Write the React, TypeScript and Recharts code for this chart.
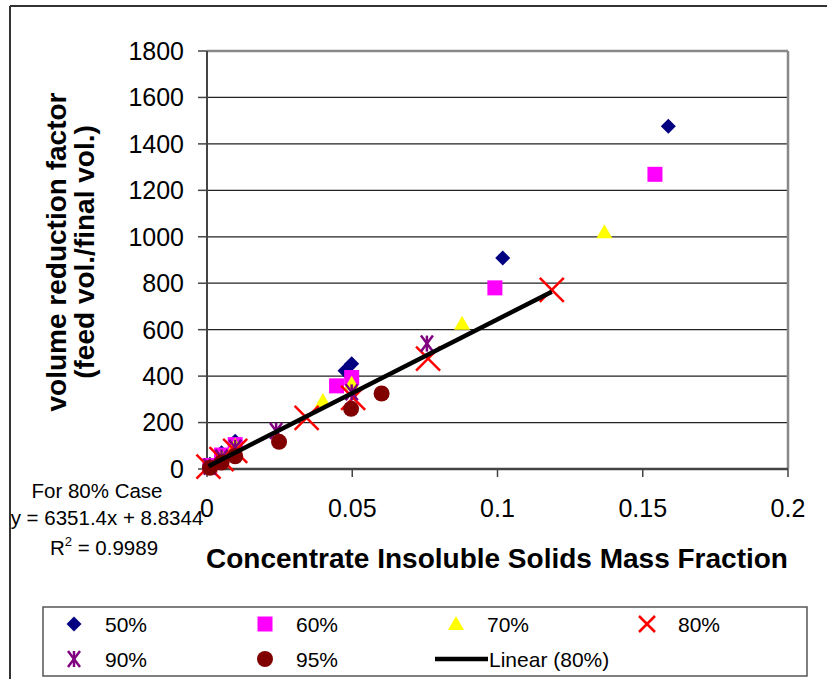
import React from "react";
import {
  ScatterChart,
  Scatter,
  XAxis,
  YAxis,
  CartesianGrid,
  ReferenceLine,
} from "recharts";

// values (x = mass fraction, y = volume reduction factor)
const case50 = [
  { x: 0.001, y: 20 },
  { x: 0.005, y: 70 },
  { x: 0.0097, y: 120 },
  { x: 0.0475, y: 423 },
  { x: 0.0498, y: 453 },
  { x: 0.1018, y: 909 },
  { x: 0.1588, y: 1476 },
];
const case60 = [
  { x: 0.001, y: 15 },
  { x: 0.005, y: 60 },
  { x: 0.0097, y: 105 },
  { x: 0.0446, y: 358 },
  { x: 0.0498, y: 394 },
  { x: 0.0991, y: 780 },
  { x: 0.1542, y: 1269 },
];
const case70 = [
  { x: 0.001, y: 12 },
  { x: 0.005, y: 52 },
  { x: 0.0097, y: 100 },
  { x: 0.0399, y: 293 },
  { x: 0.0498, y: 367 },
  { x: 0.0878, y: 626 },
  { x: 0.1368, y: 1020 },
];
const case80 = [
  { x: 0.0005, y: 10 },
  { x: 0.005, y: 43 },
  { x: 0.0097, y: 78 },
  { x: 0.0343, y: 220 },
  { x: 0.0503, y: 306 },
  { x: 0.0761, y: 475 },
  { x: 0.1187, y: 771 },
];
const case90 = [
  { x: 0.001, y: 10 },
  { x: 0.005, y: 50 },
  { x: 0.0097, y: 92 },
  { x: 0.0238, y: 164 },
  { x: 0.0498, y: 330 },
  { x: 0.0757, y: 540 },
];
const case95 = [
  { x: 0.001, y: 5 },
  { x: 0.005, y: 28 },
  { x: 0.0097, y: 55 },
  { x: 0.0248, y: 117 },
  { x: 0.0496, y: 259 },
  { x: 0.0601, y: 325 },
];
// end points of the linear fit for the 80% case
const linear80 = [
  { x: 0.0005, y: 12 },
  { x: 0.1187, y: 763 },
];

const xTicks = [0, 0.05, 0.1, 0.15, 0.2];
const yTicks = [0, 200, 400, 600, 800, 1000, 1200, 1400, 1600, 1800];

const FONT = "'Liberation Sans', Arial, sans-serif";

const Diamond = ({ cx, cy }: any) => (
  <path d={`M${cx},${cy - 7.5}L${cx + 7.5},${cy}L${cx},${cy + 7.5}L${cx - 7.5},${cy}Z`} fill="#000080" />
);
const Square = ({ cx, cy }: any) => (
  <rect x={cx - 7.5} y={cy - 7.5} width={15} height={15} fill="#FF00FF" />
);
const Triangle = ({ cx, cy }: any) => (
  <path d={`M${cx},${cy - 8}L${cx + 8},${cy + 6}L${cx - 8},${cy + 6}Z`} fill="#FFFF00" />
);
const makeCross = (h: number) => ({ cx, cy }: any) => (
  <g stroke="#FF0000" strokeWidth={2.5}>
    <line x1={cx - h} y1={cy - h} x2={cx + h} y2={cy + h} />
    <line x1={cx - h} y1={cy + h} x2={cx + h} y2={cy - h} />
  </g>
);
const Cross = makeCross(12);
const SmallCross = makeCross(8);
const Star = ({ cx, cy }: any) => (
  <g stroke="#800080" strokeWidth={2.5}>
    <line x1={cx - 6} y1={cy - 8} x2={cx + 6} y2={cy + 8} />
    <line x1={cx - 6} y1={cy + 8} x2={cx + 6} y2={cy - 8} />
    <line x1={cx} y1={cy - 8} x2={cx} y2={cy + 8} />
  </g>
);
const Circle = ({ cx, cy }: any) => <circle cx={cx} cy={cy} r={8} fill="#800000" />;
const Nothing = () => <g />;

const legendItems = [
  { label: "50%", x: 74, y: 624, Mark: Diamond },
  { label: "60%", x: 265, y: 624, Mark: Square },
  { label: "70%", x: 456, y: 624, Mark: Triangle },
  { label: "80%", x: 647, y: 624, Mark: SmallCross },
  { label: "90%", x: 74, y: 659, Mark: Star },
  { label: "95%", x: 265, y: 659, Mark: Circle },
];

export default function App() {
  return (
    <div style={{ position: "relative", width: 827, height: 679, background: "#fff" }}>
      <style>{`body{margin:0}`}</style>
      <ScatterChart
        width={827}
        height={679}
        margin={{ top: 51, right: 39, left: 0, bottom: 0 }}
      >
        <CartesianGrid vertical={false} stroke="#222" strokeWidth={1.3} />
        <XAxis
          type="number"
          dataKey="x"
          domain={[0, 0.2]}
          ticks={xTicks}
          height={210}
          tickSize={8}
          tickMargin={22}
          axisLine={{ stroke: "#444", strokeWidth: 2.5 }}
          tickLine={{ stroke: "#444", strokeWidth: 1.5 }}
          tick={{ fill: "#000", fontSize: 25, fontFamily: FONT }}
        />
        <YAxis
          type="number"
          dataKey="y"
          domain={[0, 1800]}
          ticks={yTicks}
          width={207}
          tickSize={9}
          tickMargin={14}
          axisLine={{ stroke: "#444", strokeWidth: 2 }}
          tickLine={{ stroke: "#444", strokeWidth: 1.5 }}
          tick={{ fill: "#000", fontSize: 25, fontFamily: FONT }}
        />
        <ReferenceLine y={1800} stroke="#888" strokeWidth={2.5} />
        <ReferenceLine x={0.2} stroke="#888" strokeWidth={2.5} />
        <Scatter data={case50} shape={Diamond} isAnimationActive={false} />
        <Scatter data={case60} shape={Square} isAnimationActive={false} />
        <Scatter data={case70} shape={Triangle} isAnimationActive={false} />
        <Scatter data={case80} shape={Cross} isAnimationActive={false} />
        <Scatter data={case90} shape={Star} isAnimationActive={false} />
        <Scatter data={case95} shape={Circle} isAnimationActive={false} />
        <Scatter
          data={linear80}
          shape={Nothing}
          line={{ stroke: "#000", strokeWidth: 4.5 }}
          isAnimationActive={false}
        />
      </ScatterChart>

      <svg
        width={827}
        height={679}
        style={{ position: "absolute", left: 0, top: 0, pointerEvents: "none" }}
        fontFamily={FONT}
      >
        {/* outer chart frame */}
        <line x1={10} y1={6} x2={827} y2={6} stroke="#333" strokeWidth={2} />
        <line x1={10} y1={6} x2={10} y2={679} stroke="#333" strokeWidth={2} />

        {/* y axis title */}
        <g transform="translate(66,252) rotate(-90)" fontSize={28} fontWeight="bold" textAnchor="middle">
          <text x={0} y={0}>volume reduction factor</text>
          <text x={0} y={28}>(feed vol./final vol.)</text>
        </g>

        {/* x axis title */}
        <text x={497} y={568} fontSize={28} fontWeight="bold" textAnchor="middle">
          Concentrate Insoluble Solids Mass Fraction
        </text>

        {/* trendline equation */}
        <g fontSize={20.5} textAnchor="middle">
          <text x={97} y={498}>For 80% Case</text>
          <text x={107} y={525}>y = 6351.4x + 8.8344</text>
          <text x={104} y={555}>
            R<tspan dy={-9} fontSize={13}>2</tspan>
            <tspan dy={9}> = 0.9989</tspan>
          </text>
        </g>

        {/* legend */}
        <rect x={43} y={607} width={764} height={69} fill="none" stroke="#555" strokeWidth={1.5} />
        {legendItems.map(({ label, x, y, Mark }) => (
          <g key={label}>
            <Mark cx={x} cy={y} />
            <text x={x + 31} y={y + 8} fontSize={21}>{label}</text>
          </g>
        ))}
        <line x1={435} y1={659} x2={488} y2={659} stroke="#000" strokeWidth={4.5} />
        <text x={489} y={667} fontSize={21}>Linear (80%)</text>
      </svg>
    </div>
  );
}
